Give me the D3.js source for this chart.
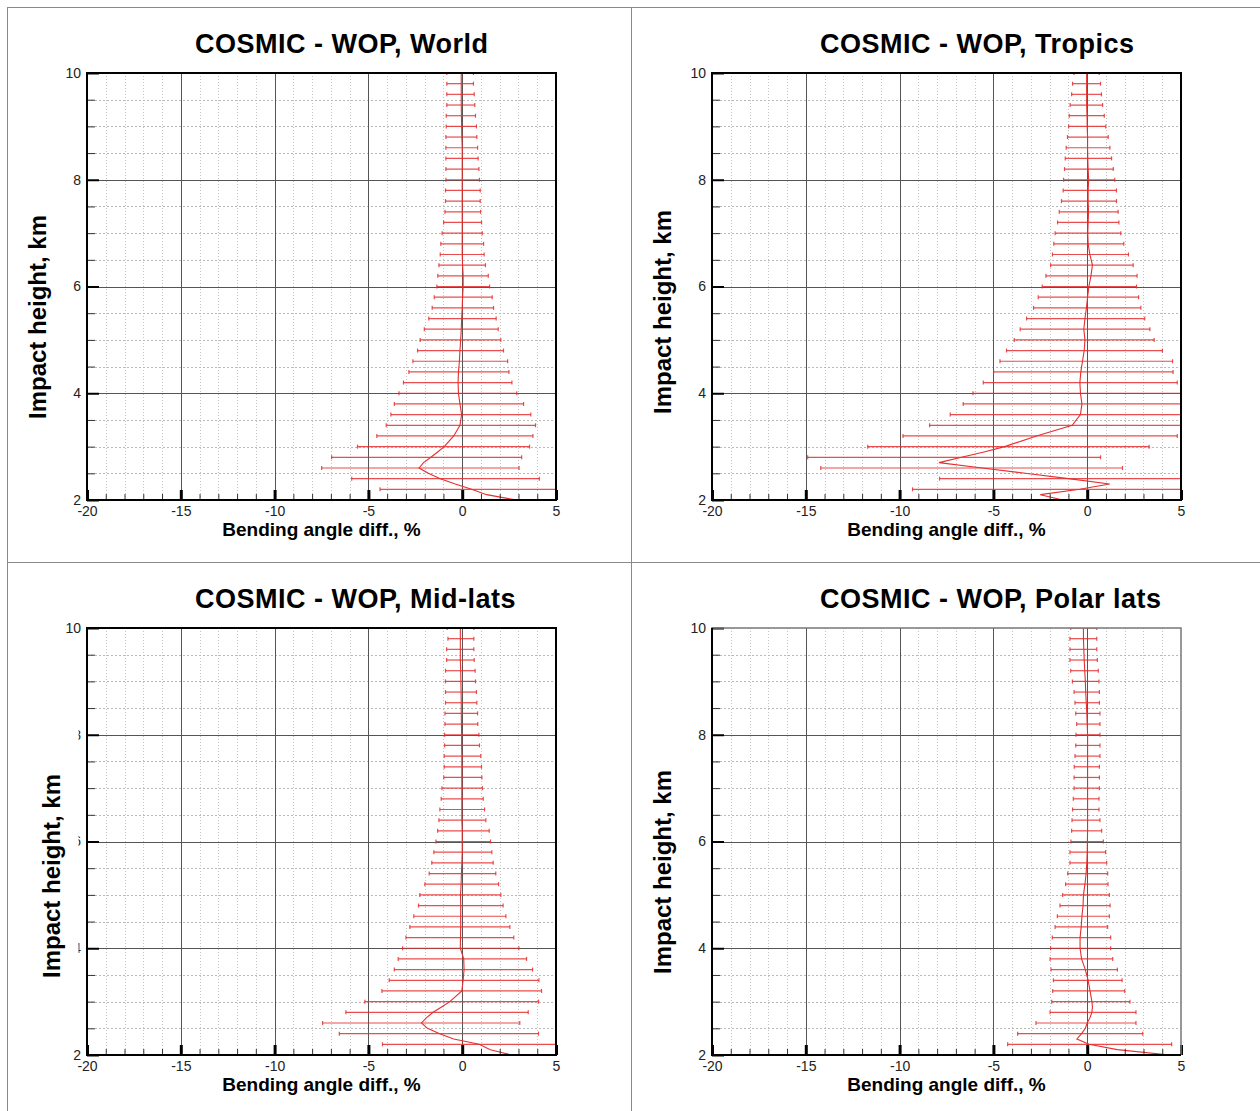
<!DOCTYPE html>
<html lang="en">
<head>
<meta charset="utf-8">
<title>COSMIC - WOP bending angle difference</title>
<script src="https://d3js.org/d3.v7.min.js"></script>
<style>
  body { margin: 0; background: #fff; }
  svg text { font-family: Arial, 'Liberation Sans', sans-serif; }
</style>
</head>
<body>
<svg id="chart" width="1260" height="1111"></svg>
<script>
// heights of the error bars (km) and of the mean profile points
const barHeights = [2.2, 2.4, 2.6, 2.8, 3.0, 3.2, 3.4, 3.6, 3.8, 4.0, 4.2, 4.4, 4.6, 4.8, 5.0, 5.2, 5.4, 5.6, 5.8, 6.0,
                    6.2, 6.4, 6.6, 6.8, 7.0, 7.2, 7.4, 7.6, 7.8, 8.0, 8.2, 8.4, 8.6, 8.8, 9.0, 9.2, 9.4, 9.6, 9.8, 10.0];
const lineHeights = [2.0, 2.1, 2.2, 2.3, 2.4, 2.5, 2.6, 2.7, 2.8, 2.9, 3.0,
                     3.2, 3.4, 3.6, 3.8, 4.0, 4.2, 4.4, 4.6, 4.8, 5.0, 5.2, 5.4, 5.6, 5.8, 6.0,
                     6.2, 6.4, 6.6, 6.8, 7.0, 7.2, 7.4, 7.6, 7.8, 8.0, 8.2, 8.4, 8.6, 8.8, 9.0, 9.2, 9.4, 9.6, 9.8, 10.0];
const xTickLabels = [-20, -15, -10, -5, 0, 5];
const yTickLabels = [2, 4, 6, 8, 10];
const titles = ["COSMIC - WOP, World", "COSMIC - WOP, Tropics", "COSMIC - WOP, Mid-lats", "COSMIC - WOP, Polar lats"];

// World
const worldLo = [-4.38, -5.89, -7.49, -6.96, -5.58, -4.55, -4.05, -3.80, -3.62, -3.37, -3.13, -2.84, -2.63, -2.38, -2.24, -2.02, -1.78, -1.60, -1.49, -1.35,
                 -1.30, -1.24, -1.17, -1.14, -1.07, -0.99, -0.92, -0.89, -0.89, -0.87, -0.87, -0.87, -0.87, -0.87, -0.85, -0.85, -0.82, -0.82, -0.82, -0.82];
const worldHi = [5.6, 4.11, 3.03, 3.17, 3.59, 3.77, 3.91, 3.66, 3.27, 2.91, 2.65, 2.49, 2.42, 2.20, 2.06, 1.92, 1.81, 1.67, 1.60, 1.46,
                 1.39, 1.24, 1.17, 1.14, 1.07, 1.03, 0.98, 0.96, 0.96, 0.92, 0.89, 0.85, 0.82, 0.78, 0.76, 0.71, 0.67, 0.64, 0.60, 0.60];
const worldMean = [2.9, 1.3, 0.5, -0.37, -1.17, -1.8, -2.3, -2.06, -1.67, -1.31, -0.96,
                   -0.45, -0.12, -0.03, -0.12, -0.2, -0.22, -0.2, -0.15, -0.12, -0.08, -0.05, -0.03, 0, 0.02, 0.05,
                   0.05, 0.02, 0, 0, 0, 0, 0, 0, 0, 0, 0, 0, 0, -0.02, -0.03, -0.04, -0.05, -0.05, -0.05, -0.05];

// Tropics
const tropicsLo = [-9.31, -7.87, -14.2, -14.9, -11.7, -9.82, -8.40, -7.30, -6.61, -6.09, -5.54, -4.99, -4.65, -4.30, -3.89, -3.57, -3.23, -2.86, -2.61, -2.40,
                   -2.20, -1.95, -1.85, -1.78, -1.71, -1.58, -1.49, -1.37, -1.28, -1.26, -1.21, -1.17, -1.12, -1.05, -0.99, -0.96, -0.91, -0.83, -0.78, -0.71];
const tropicsHi = [8.3, 5.3, 1.88, 0.71, 3.30, 4.80, 6.9, 6.6, 6.0, 5.4, 4.80, 4.58, 4.55, 4.01, 3.57, 3.34, 3.07, 2.86, 2.74, 2.63,
                   2.66, 2.45, 2.20, 1.95, 1.79, 1.69, 1.65, 1.56, 1.56, 1.47, 1.39, 1.30, 1.21, 1.12, 0.99, 0.91, 0.82, 0.76, 0.71, 0.64];
const tropicsMean = [-1.3, -2.5, -0.4, 1.2, -1.0, -3.3, -5.6, -7.9, -6.7, -5.5, -4.4,
                     -2.7, -0.8, -0.36, -0.28, -0.36, -0.39, -0.34, -0.25, -0.16, -0.12, -0.18, -0.12, -0.04, 0.02, 0.09,
                     0.2, 0.28, 0.14, 0.05, 0.03, 0.05, 0.07, 0.05, 0.05, 0.08, 0.05, 0.03, 0.02, 0.02, 0, -0.01, -0.03, -0.03, -0.03, -0.03];

// Mid-lats
const midLo = [-4.25, -6.55, -7.44, -6.20, -5.19, -4.28, -3.89, -3.62, -3.41, -3.18, -3.00, -2.79, -2.58, -2.33, -2.26, -1.99, -1.76, -1.62, -1.51, -1.40,
               -1.31, -1.24, -1.19, -1.12, -1.08, -0.98, -0.96, -0.96, -0.94, -0.94, -0.92, -0.92, -0.89, -0.89, -0.89, -0.89, -0.83, -0.83, -0.76, -0.80];
const midHi = [6.05, 4.07, 3.07, 3.52, 4.07, 4.23, 4.09, 3.75, 3.43, 3.02, 2.75, 2.54, 2.33, 2.18, 2.06, 1.94, 1.79, 1.65, 1.58, 1.51,
               1.44, 1.26, 1.19, 1.12, 1.08, 1.05, 1.03, 0.99, 0.92, 0.89, 0.83, 0.82, 0.78, 0.76, 0.71, 0.69, 0.64, 0.62, 0.62, 0.62];
const midMean = [2.63, 1.5, 0.9, -0.45, -1.2, -1.85, -2.17, -1.9, -1.55, -1.1, -0.66,
                 -0.02, 0.05, 0.1, 0.08, -0.1, -0.09, -0.08, -0.08, -0.08, -0.09, -0.06, -0.04, -0.02, 0, 0,
                 0, -0.02, -0.02, -0.02, -0.02, -0.02, -0.02, -0.02, -0.03, -0.03, -0.04, -0.05, -0.05, -0.06, -0.07, -0.08, -0.1, -0.1, -0.1, -0.1];

// Polar lats
const polarLo = [-4.24, -3.71, -2.73, -1.98, -1.89, -1.84, -1.80, -1.93, -1.98, -1.95, -1.86, -1.71, -1.59, -1.45, -1.31, -1.15, -1.04, -0.92, -0.92, -0.87,
                 -0.83, -0.81, -0.78, -0.74, -0.70, -0.70, -0.69, -0.65, -0.61, -0.60, -0.56, -0.61, -0.65, -0.70, -0.79, -0.88, -0.92, -0.92, -0.92, -0.88];
const polarHi = [4.5, 2.96, 2.60, 2.60, 2.28, 2.00, 1.86, 1.61, 1.36, 1.25, 1.25, 1.09, 1.18, 1.22, 1.18, 1.11, 1.09, 1.04, 0.98, 0.86,
                 0.77, 0.68, 0.63, 0.63, 0.65, 0.65, 0.65, 0.68, 0.68, 0.68, 0.68, 0.68, 0.65, 0.65, 0.63, 0.59, 0.54, 0.51, 0.51, 0.51];
const polarMean = [4.4, 1.6, 0.1, -0.55, -0.3, -0.1, 0.0, 0.15, 0.25, 0.28, 0.25,
                   0.15, 0.05, -0.1, -0.3, -0.38, -0.38, -0.32, -0.28, -0.22, -0.2, -0.12, -0.06, -0.02, 0, 0.01,
                   0.02, 0.02, 0.02, 0.02, 0.02, 0.02, 0.02, 0.02, 0.02, 0.02, 0.0, -0.02, -0.05, -0.08, -0.1, -0.13, -0.16, -0.18, -0.2, -0.2];

const W = 469, H = 427;
const RED = "#e62e2e";

const panels = [
  { title: titles[0], lo: worldLo,   hi: worldHi,   mean: worldMean,   left: 87,  top: 73,  ylab: [-49, 244] },
  { title: titles[1], lo: tropicsLo, hi: tropicsHi, mean: tropicsMean, left: 712, top: 73,  ylab: [-49, 239] },
  { title: titles[2], lo: midLo,     hi: midHi,     mean: midMean,     left: 87,  top: 628, ylab: [-35, 248], hideTicks: true },
  { title: titles[3], lo: polarLo,   hi: polarHi,   mean: polarMean,   left: 712, top: 628, ylab: [-49, 244], greyFrame: true }
];

const svg = d3.select("#chart");

// outer figure frame and dividers
const frame = svg.append("g").attr("stroke", "#8a8a8a").attr("stroke-width", 1);
frame.append("line").attr("x1", 7).attr("x2", 1260).attr("y1", 7.5).attr("y2", 7.5);
frame.append("line").attr("x1", 7.5).attr("x2", 7.5).attr("y1", 7).attr("y2", 1111);
frame.append("line").attr("x1", 631.5).attr("x2", 631.5).attr("y1", 7).attr("y2", 1111);
frame.append("line").attr("x1", 7).attr("x2", 1260).attr("y1", 562.5).attr("y2", 562.5);

const x = d3.scaleLinear().domain([-20, 5]).range([0, W]);
const y = d3.scaleLinear().domain([2, 10]).range([H, 0]);
const px = v => Math.round(x(v)) + 0.5;
const py = v => Math.round(y(v)) + 0.5;

panels.forEach((p, i) => {
  const g = svg.append("g").attr("transform", `translate(${p.left},${p.top})`);
  const clipId = "plotclip" + i;
  g.append("clipPath").attr("id", clipId).append("rect").attr("width", W).attr("height", H);

  // grid
  const grid = g.append("g");
  grid.selectAll(".vminor").data(d3.range(-19, 5).filter(v => v % 5 !== 0)).join("line")
    .attr("x1", px).attr("x2", px).attr("y1", 0).attr("y2", H)
    .attr("stroke", "#c4c4c4").attr("stroke-dasharray", "1,2");
  grid.selectAll(".hminor").data(d3.range(2.5, 10, 0.5).filter(v => v % 2 !== 0)).join("line")
    .attr("x1", 0).attr("x2", W).attr("y1", py).attr("y2", py)
    .attr("stroke", "#b8b8b8").attr("stroke-dasharray", "2,2");
  grid.selectAll(".vmajor").data([-15, -10, -5, 0]).join("line")
    .attr("x1", px).attr("x2", px).attr("y1", 0).attr("y2", H)
    .attr("stroke", "#555").attr("stroke-width", 1);
  grid.selectAll(".hmajor").data([4, 6, 8]).join("line")
    .attr("x1", 0).attr("x2", W).attr("y1", py).attr("y2", py)
    .attr("stroke", "#555").attr("stroke-width", 1);

  // data
  const plot = g.append("g").attr("clip-path", `url(#${clipId})`);
  const bars = barHeights.map((h, k) => ({ h, lo: p.lo[k], hi: p.hi[k] }));
  const eb = plot.append("g").attr("stroke", RED).attr("stroke-opacity", 0.85).attr("stroke-width", 1.2);
  eb.selectAll(".bar").data(bars).join("line")
    .attr("x1", d => x(d.lo)).attr("x2", d => x(d.hi))
    .attr("y1", d => y(d.h)).attr("y2", d => y(d.h));
  eb.selectAll(".capl").data(bars).join("line")
    .attr("x1", d => x(d.lo)).attr("x2", d => x(d.lo))
    .attr("y1", d => y(d.h) - 2).attr("y2", d => y(d.h) + 2);
  eb.selectAll(".caph").data(bars).join("line")
    .attr("x1", d => x(d.hi)).attr("x2", d => x(d.hi))
    .attr("y1", d => y(d.h) - 2).attr("y2", d => y(d.h) + 2);

  const line = d3.line().x(d => x(d[1])).y(d => y(d[0]));
  plot.append("path")
    .datum(lineHeights.map((h, k) => [h, p.mean[k]]))
    .attr("d", line).attr("fill", "none")
    .attr("stroke", RED).attr("stroke-width", 1.1);

  // axes with inward ticks
  const yAxis = d3.axisLeft(y)
    .tickValues(d3.range(2, 10.01, 0.5))
    .tickSize(-8).tickPadding(6)
    .tickFormat(d => yTickLabels.includes(d) ? d : "");
  const ya = g.append("g").call(yAxis);
  ya.select(".domain").remove();
  ya.selectAll(".tick line").attr("stroke", "#333")
    .filter(d => d % 2 === 0).attr("x2", 12).attr("stroke-width", 2).attr("stroke", "#000");
  ya.selectAll(".tick text").attr("font-size", 14).attr("fill", "#222");

  const xAxis = d3.axisBottom(x)
    .tickValues(d3.range(-20, 6))
    .tickSize(-6).tickPadding(6)
    .tickFormat(d => xTickLabels.includes(d) ? d : "");
  const xa = g.append("g").attr("transform", `translate(0,${H})`).call(xAxis);
  xa.select(".domain").remove();
  xa.selectAll(".tick line").attr("stroke", "#333")
    .filter(d => d % 5 === 0).attr("y2", -10).attr("stroke-width", 3).attr("stroke", "#000");
  xa.selectAll(".tick text").attr("font-size", 14).attr("fill", "#222");

  // plot frame
  if (p.greyFrame) {
    g.append("path").attr("d", `M0,${H}V0H${W}V${H}`)
      .attr("fill", "none").attr("stroke", "#777").attr("stroke-width", 1.5);
    g.append("path").attr("d", `M0,0V${H}H${W}`)
      .attr("fill", "none").attr("stroke", "#000").attr("stroke-width", 2);
  } else {
    g.append("rect").attr("width", W).attr("height", H)
      .attr("fill", "none").attr("stroke", "#000").attr("stroke-width", 2);
  }

  // lower-left panel: y tick labels partly hidden in the source
  if (p.hideTicks) {
    g.append("rect").attr("x", -30).attr("y", y(8.7)).attr("width", 21.5).attr("height", y(3.3) - y(8.7))
      .attr("fill", "#fff");
  }

  // titles
  g.append("text").attr("x", 108).attr("y", -20.5)
    .attr("font-size", 27).attr("font-weight", "bold").attr("letter-spacing", 0.5).attr("fill", "#000")
    .text(p.title);
  g.append("text").attr("x", W / 2).attr("y", H + 36)
    .attr("text-anchor", "middle").attr("font-size", 19).attr("font-weight", "bold").attr("fill", "#000")
    .text("Bending angle diff., %");
  g.append("text")
    .attr("transform", `translate(${p.ylab[0]},${p.ylab[1]}) rotate(-90)`)
    .attr("text-anchor", "middle").attr("dy", "0.35em")
    .attr("font-size", 24).attr("font-weight", "bold").attr("fill", "#000")
    .text("Impact height, km");
});
</script>
</body>
</html>
